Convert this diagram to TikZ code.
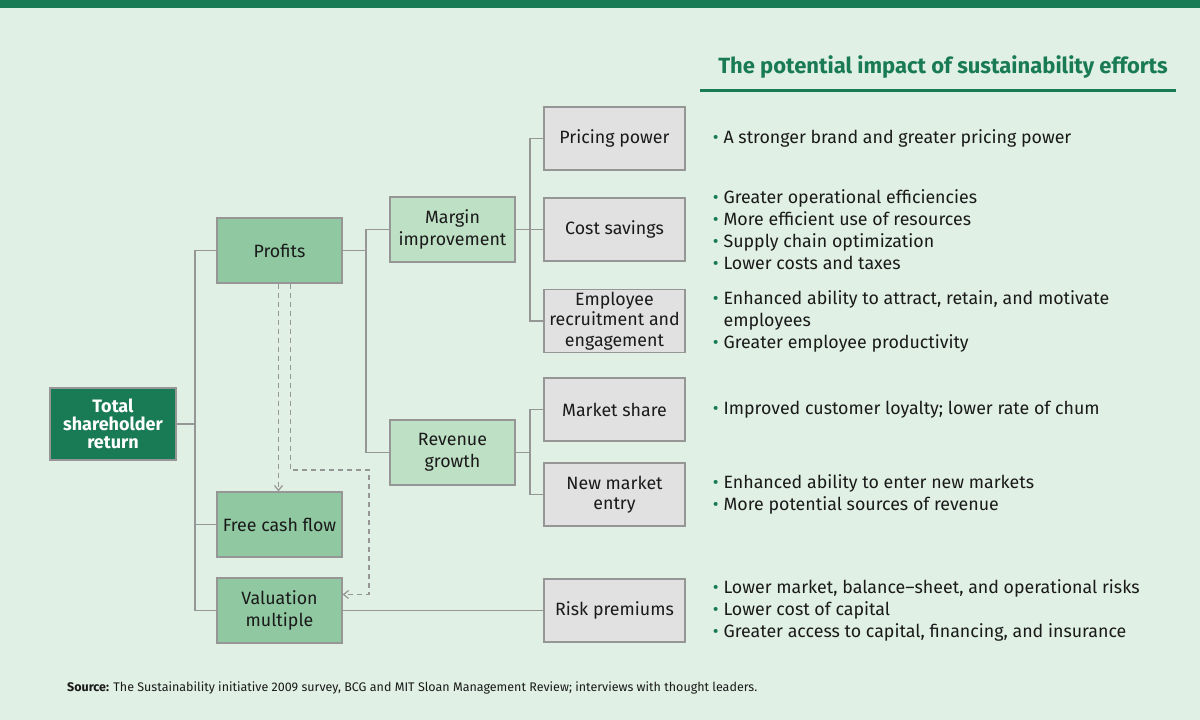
\documentclass[tikz,border=0pt]{standalone}
\usepackage{fontspec}
\setmainfont{Fira Sans}
\usetikzlibrary{arrows.meta, positioning}

\definecolor{bcgdark}{RGB}{25,122,86}
\definecolor{bcgbg}{RGB}{224,240,228}
\definecolor{bcgmid}{RGB}{143,200,161}
\definecolor{bcglight}{RGB}{190,224,197}
\definecolor{boxgray}{RGB}{225,225,225}
\definecolor{linegray}{RGB}{150,150,150}
\definecolor{inkdark}{RGB}{26,26,26}

\newcommand{\greenbul}{{\color{bcgdark}\textbullet}\hspace{5pt}}

\begin{document}
\begin{tikzpicture}[x=1pt, y=-1pt]
		\tikzstyle{TopBox} = [rectangle, minimum width=126pt, minimum height=72pt, inner sep=2pt, align=center, draw=linegray, line width=1.2pt, fill=bcgdark, text=white, font=\fontsize{18}{18}\selectfont\bfseries]
		\tikzstyle{MidBox} = [rectangle, minimum width=125pt, minimum height=65pt, inner sep=2pt, align=center, draw=linegray, line width=1.2pt, fill=bcgmid, text=inkdark, font=\fontsize{17.8}{22.5}\selectfont]
		\tikzstyle{SubBox} = [MidBox, fill=bcglight]
		\tikzstyle{DriverBox} = [rectangle, minimum width=141pt, minimum height=63pt, inner sep=1pt, align=center, draw=linegray, line width=1.2pt, fill=boxgray, text=inkdark, font=\fontsize{17.8}{20.5}\selectfont]
		\tikzstyle{ImpactList} = [inner sep=0pt, align=left, text=inkdark, font=\fontsize{17.8}{22}\selectfont]
		\tikzstyle{tree} = [linegray, line width=1.2pt]
		\tikzstyle{dasharrow} = [linegray, line width=1.2pt, dash pattern=on 5pt off 4pt, -{Straight Barb[length=5pt, width=8pt]}]
		
		\useasboundingbox (0,0) rectangle (1200,720);
		\fill[bcgbg] (0,0) rectangle (1200,720);
		\fill[bcgdark] (0,0) rectangle (1200,8);
		
		\node (title) [anchor=east, inner sep=0pt, text=bcgdark, font=\fontsize{22}{24}\selectfont\bfseries] at (1168,67) {The potential impact of sustainability efforts};
		\fill[bcgdark] (700,88.5) rectangle (1176,91.5);
		
		\node (tsr) [TopBox] at (113,424) {Total\\shareholder\\return};
		\node (profits) [MidBox] at (279.5,250.5) {Profits};
		\node (fcf) [MidBox] at (279.5,524.5) {Free cash flow};
		\node (valuation) [MidBox] at (279.5,610.5) {Valuation\\multiple};
		
		\node (margin) [SubBox] at (452.5,229.5) {Margin\\improvement};
		\node (revenue) [SubBox] at (452.5,452.5) {Revenue\\growth};
		
		\node (pricing) [DriverBox] at (614.5,138.5) {Pricing power};
		\node (cost) [DriverBox] at (614.5,229.5) {Cost savings};
		\node (employee) [DriverBox] at (614.5,321) {Employee\\recruitment and\\engagement};
		\node (market) [DriverBox] at (614.5,409.5) {Market share};
		\node (newmarket) [DriverBox] at (614.5,494.5) {New market\\entry};
		\node (risk) [DriverBox] at (614.5,610.5) {Risk premiums};
		
		\node (pricingList) [ImpactList, right = 27pt of pricing] {\greenbul A stronger brand and greater pricing power};
		\node (costList) [ImpactList, right = 27pt of cost] {\greenbul Greater operational efficiencies\\\greenbul More efficient use of resources\\\greenbul Supply chain optimization\\\greenbul Lower costs and taxes};
		\node (employeeList) [ImpactList, right = 27pt of employee] {\greenbul Enhanced ability to attract, retain, and motivate\\\phantom{\greenbul}employees\\\greenbul Greater employee productivity};
		\node (marketList) [ImpactList, right = 27pt of market] {\greenbul Improved customer loyalty; lower rate of chum};
		\node (newmarketList) [ImpactList, right = 27pt of newmarket] {\greenbul Enhanced ability to enter new markets\\\greenbul More potential sources of revenue};
		\node (riskList) [ImpactList, right = 27pt of risk] {\greenbul Lower market, balance--sheet, and operational risks\\\greenbul Lower cost of capital\\\greenbul Greater access to capital, financing, and insurance};
		
		\node (source) [anchor=west, inner sep=0pt, text=inkdark, font=\fontsize{12.5}{14}\selectfont] at (67,688) {\textbf{Source:} The Sustainability initiative 2009 survey, BCG and MIT Sloan Management Review; interviews with thought leaders.};
		
		% tree connectors
		\coordinate (tsrBus) at (195,424);
		\coordinate (profitsBus) at (366,250.5);
		\coordinate (marginBus) at (530,229.5);
		\coordinate (revenueBus) at (530,452.5);
		
		\draw[tree] (tsr.east) -- (tsrBus);
		\draw[tree] (tsrBus) |- (profits.west);
		\draw[tree] (tsrBus) |- (fcf.west);
		\draw[tree] (tsrBus) |- (valuation.west);
		
		\draw[tree] (profits.east) -- (profitsBus);
		\draw[tree] (profitsBus) |- (margin.west);
		\draw[tree] (profitsBus) |- (revenue.west);
		
		\draw[tree] (margin.east) -- (marginBus);
		\draw[tree] (marginBus) |- (pricing.west);
		\draw[tree] (marginBus) -- (cost.west);
		\draw[tree] (marginBus) |- (employee.west);
		
		\draw[tree] (revenue.east) -- (revenueBus);
		\draw[tree] (revenueBus) |- (market.west);
		\draw[tree] (revenueBus) |- (newmarket.west);
		
		\draw[tree] (risk.west) -- (valuation.east);
		
		% dashed links from profits
		\coordinate (dashTurn) at (369,470);
		\draw[dasharrow] ([xshift=-1pt]profits.south) -- ([xshift=-1pt]fcf.north);
		\draw[dasharrow] ([xshift=11pt]profits.south) |- (dashTurn) |- ([yshift=16pt]valuation.east);
\end{tikzpicture}
\end{document}
